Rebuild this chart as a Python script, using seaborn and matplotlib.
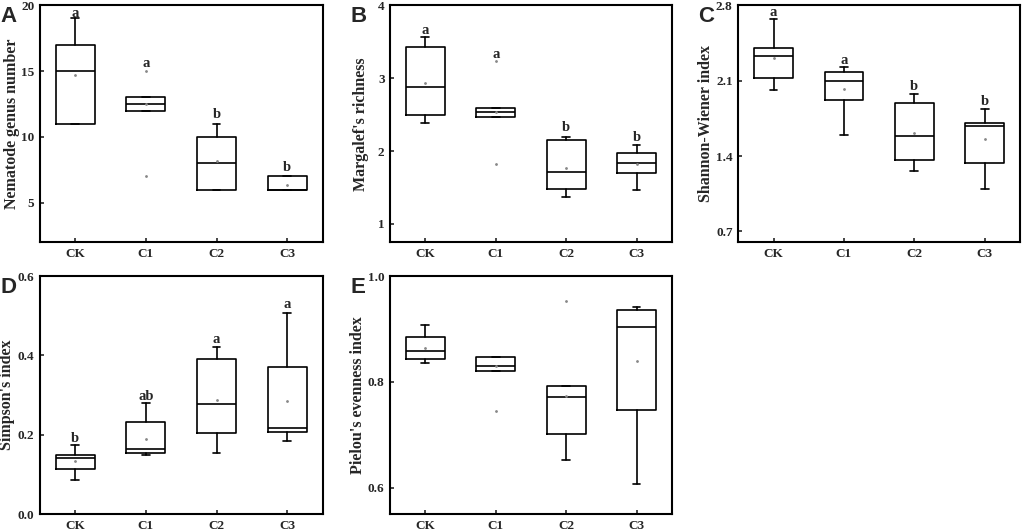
import seaborn as sns
import matplotlib.pyplot as plt

groups = ["CK", "C1", "C2", "C3"]

# A: nematode genus number
a_lo = [11, 12, 6, 6]
a_q1 = [11, 12, 6, 6]
a_med = [15, 12.5, 8, 6]
a_q3 = [17, 13, 10, 7]
a_hi = [19, 13, 11, 7]
a_mean = [14.67, 12.5, 8.2, 6.33]
a_fliers = [[], [15, 7], [], []]
a_letters = ["a", "a", "b", "b"]
a_letter_y = [19.4, 15.6, 11.7, 7.65]

# B: Margalef's richness
b_lo = [2.38, 2.47, 1.37, 1.46]
b_q1 = [2.49, 2.47, 1.48, 1.70]
b_med = [2.88, 2.54, 1.71, 1.83]
b_q3 = [3.43, 2.59, 2.15, 1.97]
b_hi = [3.56, 2.59, 2.20, 2.08]
b_mean = [2.94, 2.54, 1.77, 1.82]
b_fliers = [[], [3.23, 1.82], [], []]
b_letters = ["a", "a", "b", "b"]
b_letter_y = [3.66, 3.33, 2.32, 2.19]

# C: Shannon-Wiener index
c_lo = [2.01, 1.60, 1.26, 1.09]
c_q1 = [2.125, 1.92, 1.36, 1.34]
c_med = [2.33, 2.10, 1.59, 1.68]
c_q3 = [2.40, 2.18, 1.89, 1.71]
c_hi = [2.676, 2.23, 1.98, 1.84]
c_mean = [2.31, 2.02, 1.61, 1.56]
c_fliers = [[], [], [], []]
c_letters = ["a", "a", "b", "b"]
c_letter_y = [2.73, 2.29, 2.05, 1.905]

# D: Simpson's index
d_lo = [0.087, 0.148, 0.153, 0.184]
d_q1 = [0.114, 0.155, 0.204, 0.207]
d_med = [0.142, 0.165, 0.278, 0.218]
d_q3 = [0.150, 0.232, 0.391, 0.372]
d_hi = [0.174, 0.281, 0.422, 0.508]
d_mean = [0.135, 0.19, 0.287, 0.284]
d_fliers = [[], [], [], []]
d_letters = ["b", "ab", "a", "a"]
d_letter_y = [0.19, 0.297, 0.441, 0.528]

# E: Pielou's evenness index
e_lo = [0.836, 0.821, 0.652, 0.606]
e_q1 = [0.843, 0.821, 0.702, 0.747]
e_med = [0.859, 0.831, 0.771, 0.903]
e_q3 = [0.885, 0.847, 0.793, 0.936]
e_hi = [0.907, 0.847, 0.793, 0.941]
e_mean = [0.865, 0.831, 0.773, 0.840]
e_fliers = [[], [0.745], [0.953], []]

sns.set_theme(style="ticks")
plt.rcParams["font.family"] = ["Liberation Serif", "DejaVu Serif"]
plt.rcParams["font.weight"] = "bold"


def make_stats(lo, q1, med, q3, hi, mean, fliers):
    return [
        {"whislo": lo[i], "q1": q1[i], "med": med[i], "q3": q3[i],
         "whishi": hi[i], "mean": mean[i], "fliers": fliers[i]}
        for i in range(len(groups))
    ]


def draw_panel(rect, stats, ylim, yticks, ylabel, label_x, letter, letters=None, letter_y=None):
    ax = fig.add_axes(rect)
    lw = 1.2
    ax.bxp(
        stats,
        positions=range(len(groups)),
        widths=0.55,
        showmeans=True,
        showfliers=True,
        boxprops=dict(color="black", linewidth=lw),
        medianprops=dict(color="black", linewidth=lw),
        whiskerprops=dict(color="black", linewidth=lw),
        capprops=dict(color="black", linewidth=lw),
        capwidths=0.11,
        meanprops=dict(marker=".", markersize=2, markerfacecolor="#888888", markeredgecolor="#888888"),
        flierprops=dict(marker=".", markersize=2, markerfacecolor="#888888", markeredgecolor="#888888"),
    )
    ax.set_xlim(-0.5, 3.5)
    ax.set_ylim(*ylim)
    ax.set_yticks(yticks)
    ax.set_xticks(range(len(groups)))
    ax.set_xticklabels(groups)
    ax.tick_params(direction="in", length=3, width=1.2, labelsize=9.5, pad=4)
    for lab in ax.get_xticklabels() + ax.get_yticklabels():
        lab.set_fontweight("bold")
    for s in ax.spines.values():
        s.set_linewidth(1.5)
        s.set_color("black")
    ax.set_ylabel(ylabel, fontsize=11.5, fontweight="bold")
    ax.yaxis.set_label_coords(label_x, 0.5)
    if letters:
        for i, (t, y) in enumerate(zip(letters, letter_y)):
            ax.text(i, y, t, ha="center", va="center", fontsize=10.5, fontweight="bold")
    # panel letter
    fig.text(rect[0] - 0.039, rect[1] + rect[3] - 0.002, letter, ha="left", va="top",
             fontsize=16, fontweight="bold", family=["Liberation Sans", "DejaVu Sans"])
    return ax


fig = plt.figure(figsize=(10.24, 5.30), dpi=100)
fig.patch.set_facecolor("white")

draw_panel([0.039, 0.543, 0.276, 0.447], make_stats(a_lo, a_q1, a_med, a_q3, a_hi, a_mean, a_fliers),
           (2, 20), [5, 10, 15, 20], "Nematode genus number", -0.071, "A", a_letters, a_letter_y)
draw_panel([0.381, 0.543, 0.275, 0.447], make_stats(b_lo, b_q1, b_med, b_q3, b_hi, b_mean, b_fliers),
           (0.75, 4), [1, 2, 3, 4], "Margalef's richness", -0.074, "B", b_letters, b_letter_y)
draw_panel([0.721, 0.543, 0.275, 0.447], make_stats(c_lo, c_q1, c_med, c_q3, c_hi, c_mean, c_fliers),
           (0.6, 2.8), [0.7, 1.4, 2.1, 2.8], "Shannon-Wiener index", -0.085, "C", c_letters, c_letter_y)
draw_panel([0.039, 0.030, 0.276, 0.449], make_stats(d_lo, d_q1, d_med, d_q3, d_hi, d_mean, d_fliers),
           (0, 0.6), [0.0, 0.2, 0.4, 0.6], "Simpson's index", -0.088, "D", d_letters, d_letter_y)
draw_panel([0.381, 0.030, 0.275, 0.449], make_stats(e_lo, e_q1, e_med, e_q3, e_hi, e_mean, e_fliers),
           (0.55, 1.0), [0.6, 0.8, 1.0], "Pielou's evenness index", -0.085, "E")

fig.savefig("out.png", dpi=100)
